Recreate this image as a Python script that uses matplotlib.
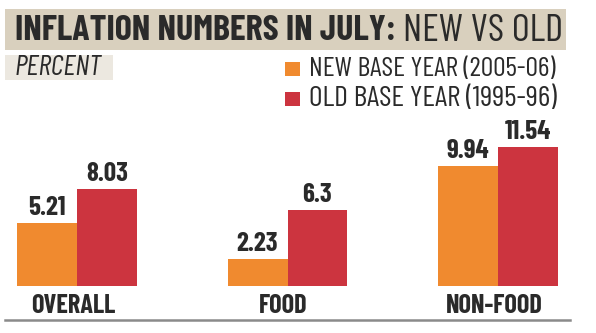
import matplotlib
matplotlib.use('Agg')
import matplotlib.pyplot as plt
from matplotlib import font_manager
from matplotlib.patches import Rectangle

categories = ['OVERALL', 'FOOD', 'NON-FOOD']
new_base = [5.21, 2.23, 9.94]
old_base = [8.03, 6.3, 11.54]
value_labels_new = ['5.21', '2.23', '9.94']
value_labels_old = ['8.03', '6.3', '11.54']
series_names = ['NEW BASE YEAR (2005-06)', 'OLD BASE YEAR (1995-96)']

orange = '#f08a2f'
red = '#cc343f'
ink = '#2a2a2a'

names = set(f.name for f in font_manager.fontManager.ttflist)
font = 'Barlow Condensed' if 'Barlow Condensed' in names else 'DejaVu Sans'
plt.rcParams['font.family'] = [font, 'DejaVu Sans']

W, H = 596, 333
fig = plt.figure(figsize=(W / 100, H / 100), dpi=100)
fig.patch.set_facecolor('white')

def fx(px):
    return px / W

def fy(py):
    return 1 - py / H

# title band
fig.patches.append(Rectangle((fx(5), fy(50)), fx(561), 41 / H, transform=fig.transFigure,
                             facecolor='#d9d0be', edgecolor='none'))
t1 = fig.text(fx(15), fy(31.5), 'INFLATION NUMBERS IN JULY:', fontsize=25, fontweight='bold',
              color=ink, va='center', ha='left')
t2 = fig.text(fx(403), fy(31.5), 'NEW VS OLD', fontsize=25, color=ink, va='center', ha='left')

# percent box
fig.patches.append(Rectangle((fx(5), fy(80)), fx(108), 25 / H, transform=fig.transFigure,
                             facecolor='#ece8e0', edgecolor='none'))
t3 = fig.text(fx(15), fy(68), 'PERCENT', fontsize=15, style='italic', color=ink, va='center', ha='left')

# legend
leg = []
for i, (name, col) in enumerate(zip(series_names, [orange, red])):
    yc = 69 + i * 30
    fig.patches.append(Rectangle((fx(285), fy(yc + 7)), fx(15), 14 / H, transform=fig.transFigure,
                                 facecolor=col, edgecolor='none'))
    leg.append(fig.text(fx(309), fy(yc), name, fontsize=15, color=ink, va='center', ha='left'))

# squeeze texts to the widths they take in the reference
fig.canvas.draw()
for t, target in [(t1, 380), (t2, 160), (t3, 87), (leg[0], 247), (leg[1], 247)]:
    wpx = t.get_window_extent().width
    t.set_fontsize(t.get_fontsize() * target / wpx)

# bars
ax = fig.add_axes([fx(5), fy(286), fx(565), (286 - 110) / H])
ax.set_xlim(-0.342, 2.342)
ax.set_ylim(0, (286 - 110) / 12.08)
ax.axis('off')
x = list(range(len(categories)))
w = 0.285
ax.bar([i - w / 2 for i in x], new_base, width=w, color=orange)
ax.bar([i + w / 2 for i in x], old_base, width=w, color=red)
for i in x:
    ax.annotate(value_labels_new[i], (i - w / 2, new_base[i]), xytext=(0, 2), textcoords='offset points',
                ha='center', va='bottom', fontsize=19.5, fontweight='bold', color=ink)
    ax.annotate(value_labels_old[i], (i + w / 2, old_base[i]), xytext=(0, 2), textcoords='offset points',
                ha='center', va='bottom', fontsize=19.5, fontweight='bold', color=ink)
    ax.annotate(categories[i], (i, 0), xytext=(-3, -6), textcoords='offset points',
                ha='center', va='top', fontsize=19, fontweight='bold', color=ink)

# bottom rule
fig.lines.append(plt.Line2D([fx(5), fx(570)], [fy(320), fy(320)], transform=fig.transFigure,
                            color='#8a8a8a', linewidth=1.8))

fig.savefig('out.png', dpi=100)
